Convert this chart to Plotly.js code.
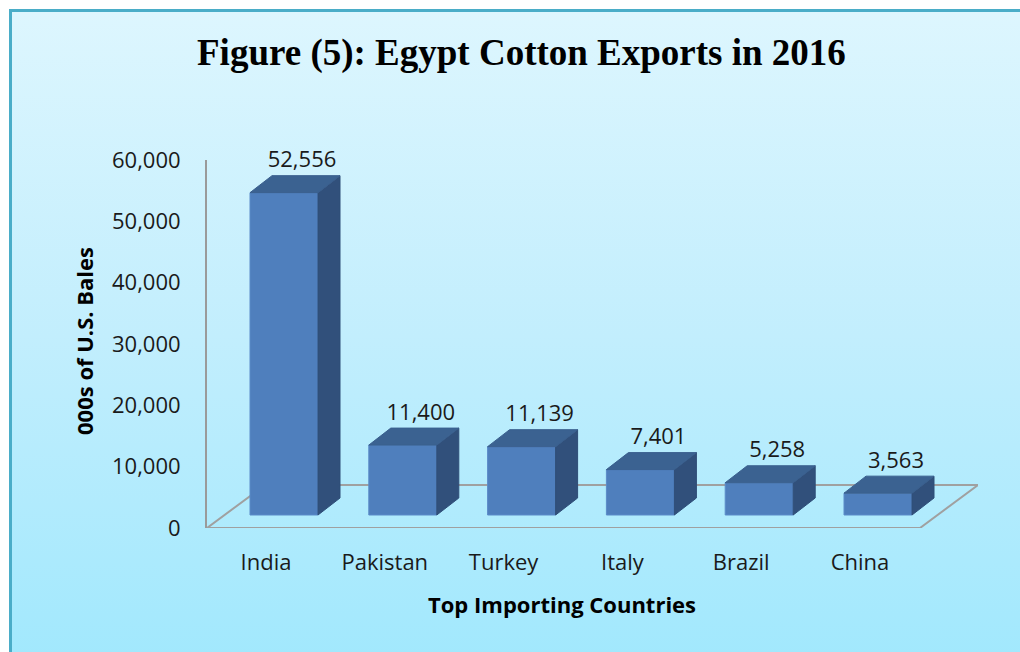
<!DOCTYPE html>
<html>
<head>
<meta charset="utf-8">
<script src="https://cdn.plot.ly/plotly-3.0.1.min.js"></script>
<style>
html, body { margin: 0; padding: 0; width: 1020px; height: 652px; overflow: hidden; background: #ffffff; }
#frame { position: absolute; left: 9px; top: 9px; width: 1100px; height: 720px; border: 3px solid #4aadc8; background: linear-gradient(to bottom, #ddf6fe 0%, #c2eefd 45%, #a0e8fd 92%); }
#chart { position: absolute; left: 0; top: 0; width: 1020px; height: 652px; }
</style>
</head>
<body>
<div id="frame"></div>
<div id="chart"></div>
<script>
// ---- data ----
var categories = ["India", "Pakistan", "Turkey", "Italy", "Brazil", "China"];
var values = [52556, 11400, 11139, 7401, 5258, 3563];
var yTickValues = [0, 10000, 20000, 30000, 40000, 50000, 60000];
var chartTitle = "Figure (5): Egypt Cotton Exports in 2016";
var yTitle = "000s of U.S. Bales";
var xTitle = "Top Importing Countries";

// ---- 3D look parameters (pixel geometry converted to axis units) ----
var catPx = 118.8;            // px per category
var pxPerUnit = 368 / 60000;  // px per value unit
var barW = 68 / catPx;        // bar width in category units
var ddx = 22 / catPx;         // depth offset x
var ddy = 17 / pxPerUnit;     // depth offset y
var baseShift = 13 / pxPerUnit; // bars' front base sits above axis zero
var xMin = -77 / catPx, xMax = 694 / catPx;

var idx = categories.map(function (c, i) { return i; });

// side faces and top faces as polygons
var sx = [], sy = [], tx = [], ty = [];
values.forEach(function (v, i) {
  var l = i - barW / 2, r = i + barW / 2;
  sx.push(r, r + ddx, r + ddx, r, r, null);
  sy.push(0, ddy, v + ddy, v, 0, null);
  tx.push(l, r, r + ddx, l + ddx, l, null);
  ty.push(v, v, v + ddy, v + ddy, v, null);
});

var fontFam = "'Open Sans', 'Noto Sans', sans-serif";

var traces = [
  {
    type: "bar", x: idx, y: values, width: barW, yaxis: "y2",
    marker: { color: "#4f7fbd", line: { color: "#5b8bc8", width: 1 } },
    hoverinfo: "skip", showlegend: false, cliponaxis: false
  },
  {
    type: "scatter", mode: "lines", x: sx, y: sy, yaxis: "y2",
    fill: "toself", fillcolor: "#31507b", line: { color: "#2f4e78", width: 1 },
    hoverinfo: "skip", showlegend: false, cliponaxis: false
  },
  {
    type: "scatter", mode: "lines", x: tx, y: ty, yaxis: "y2",
    fill: "toself", fillcolor: "#3b6291", line: { color: "#3a5f8e", width: 1 },
    hoverinfo: "skip", showlegend: false, cliponaxis: false
  },
  {
    type: "scatter", mode: "text", yaxis: "y2",
    x: idx.map(function (i) { return i + 18 / catPx; }),
    y: values.map(function (v) { return v + ddy + 3 / pxPerUnit; }),
    text: values.map(function (v) { return v.toLocaleString("en-US"); }),
    textposition: "top center",
    textfont: { family: fontFam, size: 22, color: "#1a1a1a" },
    hoverinfo: "skip", showlegend: false, cliponaxis: false
  }
];

var floorBackY = 43 / pxPerUnit;
var layout = {
  width: 1020, height: 652,
  paper_bgcolor: "rgba(0,0,0,0)", plot_bgcolor: "rgba(0,0,0,0)",
  margin: { l: 207, r: 42, t: 160, b: 124, pad: 0 },
  showlegend: false,
  xaxis: {
    range: [xMin, xMax], automargin: false, showgrid: false, zeroline: false, showline: false,
    tickmode: "array",
    tickvals: idx.map(function (i) { return i - 18 / catPx; }),
    ticktext: categories,
    ticks: "outside", ticklen: 15, tickcolor: "rgba(0,0,0,0)",
    tickfont: { family: fontFam, size: 22, color: "#1a1a1a" }
  },
  yaxis: {
    range: [0, 60000], automargin: false, showgrid: false, zeroline: false,
    showline: true, linecolor: "#9a9a9a", linewidth: 2,
    tickmode: "array", tickvals: yTickValues, tickformat: ",d",
    ticks: "outside", ticklen: 20, tickcolor: "rgba(0,0,0,0)",
    tickfont: { family: fontFam, size: 22, color: "#1a1a1a" }
  },
  yaxis2: {
    overlaying: "y", range: [-baseShift, 60000 - baseShift], visible: false
  },
  shapes: [
    {
      type: "path", xref: "x", yref: "y", layer: "below",
      path: "M " + xMin + " 0 L " + (636 / catPx) + " 0 L " + xMax + " " + floorBackY +
            " L " + (-19 / catPx) + " " + floorBackY + " Z",
      line: { color: "#a0a0a0", width: 2 }, fillcolor: "rgba(0,0,0,0)"
    }
  ],
  annotations: [
    {
      text: chartTitle, xref: "paper", yref: "paper",
      x: (521 - 207) / 771, y: 1 + (160 - 53) / 368, xanchor: "center", yanchor: "middle",
      showarrow: false, font: { family: "'Liberation Serif', 'Times New Roman', serif", size: 37, color: "#000000", weight: "bold" }
    },
    {
      text: "<b>" + yTitle + "</b>", xref: "paper", yref: "paper",
      x: (84 - 207) / 771, y: (528 - 341) / 368, xanchor: "center", yanchor: "middle",
      textangle: -90, showarrow: false, font: { family: fontFam, size: 22, color: "#000000" }
    },
    {
      text: "<b>" + xTitle + "</b>", xref: "paper", yref: "paper",
      x: (562 - 207) / 771, y: -(604 - 528) / 368, xanchor: "center", yanchor: "middle",
      showarrow: false, font: { family: fontFam, size: 22, color: "#000000" }
    }
  ]
};

Plotly.newPlot("chart", traces, layout, { displayModeBar: false, staticPlot: true });
</script>
</body>
</html>
